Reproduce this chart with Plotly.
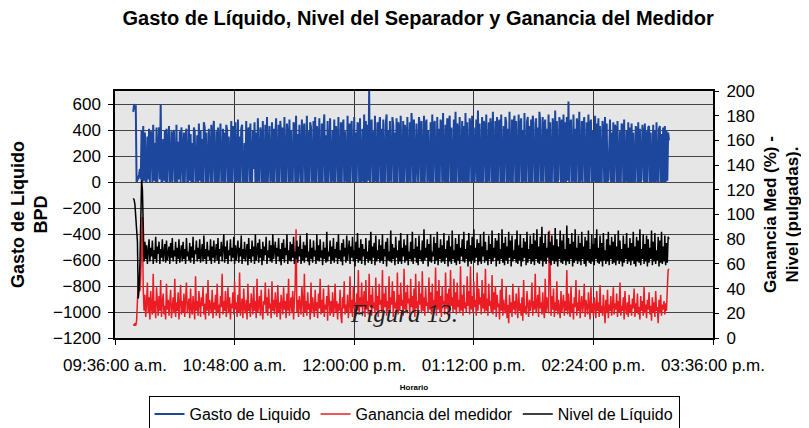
import pandas as pd
import plotly.graph_objects as go

# readings every 30 s starting 09:47
start = "2000-01-01 09:47:00"

gasto = [
    540, 600, 560, 590, 0, 10, 30, 60, 100, 20, 400, 0, 430, 10, 380, 0, 0, 350, 20, 410,
    0, 390, 360, 0, 440, 10, 300, 0, 420, 0, 380, 420, 20, 600, 0, 0, 330, 10, 400, 0,
    410, 0, 280, 430, 0, 20, 390, 0, 350, 400, 10, 0, 440, 0, 310, 20, 390, 0, 420, 150,
    0, 380, 0, 350, 410, 0, 0, 440, 10, 370, 0, 300, 0, 420, 390, 0, 20, 360, 0, 450,
    10, 400, 0, 330, 0, 460, 420, 0, 380, 10, 0, 410, 200, 0, 440, 0, 350, 470, 0, 10,
    390, 0, 420, 0, 300, 450, 0, 20, 410, 0, 380, 0, 440, 400, 0, 350, 10, 0, 470, 0,
    430, 380, 0, 460, 0, 20, 480, 0, 350, 0, 410, 440, 0, 10, 300, 0, 470, 0, 390, 420,
    0, 450, 10, 0, 400, 100, 460, 0, 380, 0, 490, 20, 0, 420, 350, 0, 470, 0, 10, 440,
    0, 500, 0, 380, 430, 0, 20, 460, 0, 410, 0, 350, 490, 0, 10, 440, 0, 470, 380, 0,
    420, 0, 500, 10, 0, 450, 360, 0, 480, 0, 400, 20, 0, 460, 430, 0, 510, 0, 370, 0,
    440, 180, 0, 480, 0, 400, 450, 0, 10, 510, 0, 390, 0, 460, 420, 0, 20, 470, 0, 500,
    0, 430, 380, 0, 490, 0, 10, 450, 0, 410, 520, 0, 360, 0, 470, 0, 440, 490, 0, 20,
    400, 0, 480, 0, 430, 370, 0, 500, 10, 0, 460, 0, 420, 480, 0, 390, 20, 0, 510, 0,
    450, 0, 420, 470, 0, 10, 500, 0, 380, 0, 460, 430, 0, 490, 0, 20, 410, 0, 520, 0,
    470, 0, 440, 10, 700, 0, 420, 480, 0, 390, 0, 510, 20, 0, 460, 0, 430, 500, 0, 410,
    0, 480, 10, 0, 450, 520, 0, 400, 0, 470, 30, 0, 500, 440, 0, 380, 0, 490, 0, 460,
    420, 0, 510, 0, 10, 470, 0, 440, 390, 0, 500, 0, 20, 460, 0, 530, 410, 0, 480, 0,
    0, 450, 150, 0, 500, 420, 0, 470, 10, 0, 510, 0, 440, 480, 0, 400, 20, 0, 460, 0,
    520, 0, 430, 470, 0, 10, 500, 0, 410, 0, 480, 450, 0, 530, 20, 0, 440, 0, 490, 0,
    460, 510, 0, 420, 0, 10, 480, 0, 540, 0, 450, 400, 0, 500, 0, 20, 470, 0, 430, 0,
    530, 0, 460, 10, 0, 490, 440, 0, 510, 0, 420, 0, 200, 480, 0, 550, 0, 450, 10, 0,
    500, 0, 470, 430, 0, 520, 0, 20, 460, 0, 490, 410, 0, 540, 0, 10, 470, 0, 500, 0,
    450, 480, 0, 520, 0, 10, 430, 0, 500, 460, 0, 410, 0, 540, 20, 0, 480, 0, 450, 510,
    0, 470, 0, 10, 520, 0, 440, 490, 0, 400, 0, 530, 20, 0, 460, 500, 0, 430, 0, 480,
    0, 510, 450, 0, 10, 490, 0, 420, 0, 540, 470, 0, 20, 500, 0, 440, 480, 0, 410, 0,
    520, 0, 460, 10, 0, 490, 430, 0, 550, 0, 470, 0, 20, 500, 440, 0, 480, 0, 520, 0,
    460, 0, 500, 10, 620, 0, 440, 480, 0, 20, 520, 0, 410, 0, 490, 450, 0, 540, 0, 30,
    470, 0, 430, 500, 0, 10, 460, 0, 520, 0, 440, 480, 0, 400, 0, 20, 510, 0, 450, 0,
    490, 0, 430, 10, 0, 470, 400, 0, 500, 0, 450, 0, 20, 420, 480, 0, 380, 0, 460, 0,
    440, 410, 0, 470, 0, 10, 390, 0, 450, 430, 0, 480, 0, 20, 400, 0, 460, 0, 420, 0,
    450, 0, 380, 10, 0, 430, 400, 0, 460, 0, 410, 0, 20, 440, 370, 0, 450, 0, 390, 0,
    420, 430, 0, 380, 0, 10, 440, 0, 400, 0, 460, 20, 0, 410, 430, 0, 370, 0, 420, 0,
    430, 0, 400, 10, 380, 320,
]

ganancia = [
    11, 10, 12, 10, 14, 30, 45, 40, 38, 50, 70, 98, 40, 22, 35, 17, 28, 45, 20, 33,
    15, 38, 24, 19, 52, 21, 30, 16, 41, 25, 18, 34, 22, 47, 17, 29, 36, 19, 26, 15,
    44, 23, 31, 18, 27, 39, 16, 24, 33, 20, 48, 17, 29, 22, 37, 15, 26, 43, 19, 30,
    21, 36, 17, 28, 45, 20, 25, 32, 16, 40, 23, 19, 34, 27, 15, 50, 22, 30, 18, 38,
    24, 17, 33, 26, 42, 19, 28, 15, 36, 22, 47, 18, 31, 25, 20, 39, 16, 29, 23, 35,
    18, 44, 21, 27, 16, 34, 25, 52, 19, 30, 22, 38, 17, 26, 41, 20, 33, 15, 28, 24,
    37, 19, 46, 23, 29, 17, 35, 21, 53, 18, 27, 32, 16, 40, 24, 20, 31, 15, 44, 22,
    28, 17, 36, 25, 19, 42, 22, 30, 16, 48, 21, 26, 34, 18, 39, 23, 15, 30, 27, 45,
    20, 33, 18, 40, 24, 28, 16, 46, 22, 31, 19, 37, 25, 17, 43, 21, 29, 15, 35, 26,
    19, 41, 23, 30, 16, 36, 22, 48, 18, 27, 33, 20, 38, 15, 25, 44, 88, 21, 31, 17,
    34, 24, 19, 42, 26, 17, 52, 21, 30, 18, 37, 23, 28, 15, 45, 20, 33, 25, 17, 39,
    22, 29, 16, 36, 24, 48, 19, 31, 21, 40, 17, 27, 23, 34, 14, 43, 26, 18, 30, 20,
    37, 17, 25, 44, 21, 30, 15, 28, 22, 39, 18, 12, 33, 24, 46, 19, 27, 21, 35, 16,
    26, 50, 20, 31, 17, 42, 24, 29, 18, 36, 22, 55, 19, 33, 25, 45, 21, 28, 38, 17,
    47, 23, 30, 19, 52, 26, 35, 18, 41, 24, 29, 20, 49, 22, 34, 17, 44, 27, 31, 21,
    55, 19, 36, 25, 42, 18, 30, 23, 50, 20, 33, 27, 46, 17, 38, 24, 29, 21, 53, 19,
    35, 22, 45, 26, 31, 18, 56, 23, 37, 20, 43, 28, 32, 19, 48, 25, 34, 21, 40, 17,
    52, 24, 30, 19, 46, 27, 36, 20, 54, 22, 33, 18, 41, 26, 29, 21, 49, 23, 37, 19,
    44, 20, 31, 25, 57, 18, 38, 23, 47, 21, 34, 17, 42, 27, 30, 19, 53, 24, 36, 22,
    40, 18, 55, 26, 33, 21, 48, 23, 37, 19, 45, 25, 31, 20, 58, 22, 35, 18, 43, 24,
    29, 21, 50, 26, 38, 19, 58, 23, 34, 20, 46, 25, 31, 18, 53, 22, 40, 27, 33, 19,
    47, 24, 36, 20, 56, 22, 32, 18, 44, 26, 30, 21, 51, 19, 37, 23, 42, 17, 35, 25,
    28, 15, 39, 22, 48, 18, 31, 24, 20, 42, 16, 27, 12, 35, 21, 29, 17, 44, 23, 30,
    19, 36, 25, 16, 41, 22, 28, 18, 33, 14, 47, 21, 26, 19, 38, 24, 17, 31, 22, 27,
    45, 18, 30, 23, 52, 20, 27, 35, 17, 42, 24, 29, 19, 37, 22, 16, 48, 21, 33, 25,
    20, 87, 26, 18, 34, 23, 40, 17, 29, 22, 46, 19, 31, 24, 16, 38, 21, 27, 35, 18,
    30, 22, 55, 19, 36, 24, 17, 42, 21, 28, 15, 33, 25, 47, 18, 29, 22, 39, 16, 26,
    34, 20, 27, 44, 17, 31, 23, 19, 37, 25, 15, 41, 21, 28, 18, 33, 24, 16, 38, 22,
    29, 17, 43, 21, 26, 18, 35, 24, 12, 31, 20, 39, 16, 27, 22, 34, 18, 25, 41, 19,
    28, 23, 36, 17, 30, 21, 45, 18, 26, 22, 33, 15, 38, 24, 19, 29, 17, 35, 21, 27,
    18, 32, 24, 40, 17, 28, 21, 36, 19, 25, 15, 34, 22, 30, 18, 42, 20, 27, 16, 31,
    23, 37, 19, 26, 14, 33, 21, 29, 17, 38, 22, 25, 12, 31, 20, 35, 18, 27, 23, 30,
    19, 28, 22, 40, 55, 56,
]

nivel = [
    113, 112, 108, 100, 85, 78, 32, 40, 60, 95, 128, 120, 72, 62, 78, 64, 75, 60, 70, 80,
    62, 73, 66, 79, 60, 71, 64, 82, 61, 74, 68, 78, 60, 72, 65, 80, 62, 69, 76, 61,
    79, 63, 70, 74, 60, 77, 65, 81, 62, 71, 66, 78, 60, 73, 64, 80, 61, 70, 75, 62,
    78, 64, 72, 60, 81, 66, 70, 63, 77, 61, 74, 65, 82, 60, 71, 68, 79, 62, 73, 64,
    80, 61, 70, 76, 62, 83, 64, 72, 60, 78, 66, 71, 63, 80, 60, 74, 65, 79, 61, 70,
    76, 63, 81, 60, 72, 66, 78, 62, 70, 84, 61, 74, 64, 79, 60, 71, 67, 80, 62, 73,
    65, 82, 60, 75, 63, 70, 79, 61, 73, 66, 83, 60, 72, 64, 78, 62, 70, 76, 59, 81,
    64, 72, 61, 79, 66, 74, 60, 84, 63, 70, 77, 61, 80, 65, 72, 59, 78, 63, 74, 67,
    82, 60, 71, 65, 79, 62, 75, 61, 84, 64, 70, 78, 60, 73, 66, 81, 62, 72, 59, 77,
    64, 80, 61, 73, 67, 84, 60, 71, 63, 78, 62, 76, 65, 82, 60, 70, 64, 79, 61, 74,
    66, 83, 60, 72, 63, 78, 61, 75, 65, 85, 62, 70, 59, 80, 64, 73, 61, 79, 66, 71,
    60, 84, 63, 75, 62, 80, 65, 71, 59, 78, 64, 73, 61, 86, 62, 70, 66, 79, 60, 74,
    63, 81, 61, 72, 65, 78, 60, 84, 64, 71, 62, 77, 59, 80, 66, 73, 61, 83, 63, 70,
    79, 60, 74, 65, 82, 62, 71, 58, 78, 64, 85, 61, 73, 63, 80, 60, 76, 66, 72, 59,
    81, 64, 70, 61, 79, 63, 86, 60, 74, 65, 77, 59, 83, 62, 71, 64, 80, 61, 75, 63,
    84, 60, 72, 66, 78, 58, 81, 63, 70, 62, 87, 61, 76, 64, 73, 59, 82, 65, 71, 60,
    79, 62, 85, 60, 73, 66, 80, 61, 75, 63, 84, 59, 70, 64, 78, 62, 86, 60, 72, 65,
    81, 61, 74, 59, 83, 64, 71, 62, 79, 60, 88, 63, 73, 65, 80, 58, 76, 62, 84, 61,
    70, 66, 82, 60, 77, 63, 86, 59, 73, 64, 80, 61, 75, 62, 85, 60, 72, 65, 79, 58,
    83, 62, 74, 60, 87, 64, 71, 61, 81, 59, 76, 63, 84, 60, 73, 66, 80, 62, 86, 61,
    72, 64, 79, 58, 85, 62, 75, 60, 82, 63, 88, 61, 73, 65, 80, 59, 77, 62, 84, 60,
    74, 66, 86, 61, 78, 63, 71, 59, 83, 64, 76, 60, 87, 62, 73, 65, 81, 58, 79, 63,
    85, 60, 72, 64, 88, 61, 77, 59, 82, 63, 74, 60, 86, 65, 79, 58, 83, 62, 71, 64,
    80, 61, 87, 60, 75, 63, 84, 58, 73, 62, 81, 65, 78, 59, 86, 61, 72, 64, 83, 60,
    76, 62, 85, 59, 79, 64, 88, 61, 74, 60, 82, 63, 90, 58, 77, 62, 84, 60, 73, 65,
    86, 61, 78, 59, 83, 63, 75, 60, 89, 62, 80, 58, 74, 64, 87, 61, 79, 60, 84, 63,
    72, 59, 91, 62, 81, 60, 76, 64, 85, 58, 78, 61, 88, 63, 73, 60, 83, 62, 77, 59,
    86, 64, 74, 60, 82, 58, 79, 63, 87, 61, 72, 60, 84, 62, 76, 59, 81, 64, 88, 61,
    73, 60, 83, 62, 77, 58, 85, 63, 71, 60, 80, 62, 86, 59, 75, 64, 82, 60, 78, 61,
    84, 59, 74, 63, 87, 60, 79, 62, 72, 58, 83, 61, 76, 64, 85, 60, 73, 62, 81, 59,
    77, 63, 86, 60, 74, 58, 82, 62, 79, 61, 88, 59, 72, 64, 84, 60, 76, 62, 83, 58,
    80, 61, 73, 64, 87, 59, 78, 62, 85, 60, 71, 63, 82, 58, 79, 61, 86, 60, 74, 62,
    83, 59, 77, 61, 82, 80,
]

tick_times = ["09:36", "10:48", "12:00", "13:12", "14:24", "15:36"]
tick_labels = ["09:36:00 a.m.", "10:48:00 a.m.", "12:00:00 p.m.",
               "01:12:00 p.m.", "02:24:00 p.m.", "03:36:00 p.m."]
left_ticks = [-1200, -1000, -800, -600, -400, -200, 0, 200, 400, 600]

tick_vals = ["2000-01-01 " + s + ":00" for s in tick_times]


def times(values):
    return pd.date_range(start, periods=len(values), freq="30s")


FONT = "Liberation Sans, Arial, sans-serif"

fig = go.Figure()
fig.add_trace(go.Scatter(x=times(gasto), y=gasto, name="Gasto de Liquido", mode="lines",
                         line=dict(color="#1c479c", width=2)))
fig.add_trace(go.Scatter(x=times(ganancia), y=ganancia, name="Ganancia del medidor",
                         mode="lines", line=dict(color="#ec1c24", width=1.5), yaxis="y2"))
fig.add_trace(go.Scatter(x=times(nivel), y=nivel, name="Nivel de Líquido", mode="lines",
                         line=dict(color="#000000", width=1.5), yaxis="y2"))

fig.add_annotation(text="<i>Figura 13.</i>", xref="paper", yref="paper", x=0.483, y=0.1,
                   yanchor="middle", showarrow=False,
                   font=dict(family="Liberation Serif, serif", size=25, color="#222"))

# page body has an 8px margin, so the figure is 8px smaller and margins shifted
fig.update_layout(
    width=801, height=420,
    margin=dict(l=107, r=96, t=83, b=90),
    paper_bgcolor="white", plot_bgcolor="#e6e6e6",
    font=dict(family=FONT, size=17, color="black"),
    title=dict(text="<b>Gasto de Líquido, Nivel del Separador y Ganancia del Medidor</b>",
               x=0.512, xanchor="center", y=0.976, yanchor="middle",
               font=dict(size=20)),
    xaxis=dict(range=["2000-01-01 09:36:00", "2000-01-01 15:36:00"],
               tickvals=tick_vals, ticktext=tick_labels, automargin=False,
               showgrid=True, gridcolor="#333", gridwidth=1,
               ticks="outside", ticklen=5, tickcolor="black", ticklabelstandoff=6,
               showline=True, linecolor="black", linewidth=1.5, mirror=True,
               title=dict(text="<b>Horario</b>", font=dict(size=8), standoff=10)),
    yaxis=dict(range=[-1200, 700], tickvals=left_ticks, automargin=False,
               showgrid=True, gridcolor="#444", gridwidth=1, zeroline=False,
               ticks="outside", ticklen=5, tickcolor="black", ticklabelstandoff=4,
               showline=True, linecolor="black", linewidth=1.5, mirror=True,
               title=dict(text="<b>Gasto de Liquido<br>BPD</b>", font=dict(size=18),
                          standoff=8)),
    yaxis2=dict(range=[0, 200], dtick=20, overlaying="y", side="right", automargin=False,
                showgrid=False, zeroline=False,
                ticks="outside", ticklen=5, tickcolor="black", ticklabelstandoff=4,
                title=dict(text="<b>Ganancia Med (%) -<br>Nivel (pulgadas).</b>",
                           font=dict(size=17), standoff=10)),
    legend=dict(orientation="h", x=0.5, xanchor="center",
                yref="container", y=0.076, yanchor="top",
                bordercolor="black", borderwidth=1, bgcolor="white",
                font=dict(size=16), itemwidth=30, tracegroupgap=0),
    showlegend=True,
)

fig.write_html("out.html")
